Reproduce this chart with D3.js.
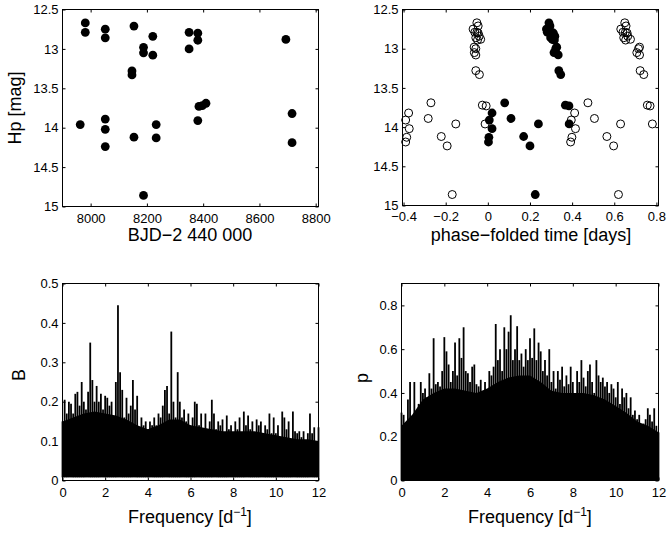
<!DOCTYPE html>
<html>
<head>
<meta charset="utf-8">
<script src="https://cdn.jsdelivr.net/npm/d3@7"></script>
<style>
    body { margin: 0; background: #fff; }
    svg { display: block; font-family: "Liberation Sans", Arial, Helvetica, sans-serif; }
</style>
</head>
<body>
<div id="chart"></div>
<script>
TICK_FONT = 13;
LABEL_FONT = 18;
TICK_LEN = 3;

// Hipparcos photometry, one entry per measurement
const BJD = [7981, 7981, 7963, 8052, 8052, 8052, 8052, 8052, 8154, 8147,
             8147, 8154, 8188, 8188, 8188, 8221, 8221, 8233, 8233, 8350,
             8350, 8381, 8381, 8385, 8397, 8410, 8381, 8694, 8716, 8716];
const MAG = [12.67, 12.79, 13.96, 12.75, 12.86, 13.89, 14.02, 14.24, 12.71, 13.28,
             13.33, 14.12, 12.98, 13.05, 14.86, 12.84, 13.08, 13.96, 14.13, 12.79,
             13.00, 12.80, 12.89, 13.73, 13.72, 13.69, 13.91, 12.88, 13.82, 14.19];
// folded phase of each point (filled) and the neighbouring cycles (open)
const PHASE = [0.290, 0.282, 0.240, 0.278, 0.298, 0.110, 0.020, 0.200, 0.295, 0.337,
               0.346, 0.170, 0.327, 0.314, 0.225, 0.318, 0.334, 0.386, 0.005, 0.301,
               0.322, 0.311, 0.316, 0.385, 0.368, 0.080, 0.007, 0.306, 0.020, 0.003];
const PHASE_BEFORE = [-0.052, -0.062, -0.152, -0.070, -0.057, -0.283, -0.373, -0.193, -0.046, -0.057,
                      -0.040, -0.221, -0.065, -0.064, -0.169, -0.041, -0.057, -0.013, -0.385, -0.052,
                      -0.057, -0.046, -0.049, -0.008, -0.026, -0.270, -0.390, -0.034, -0.376, -0.390];
const PHASE_AFTER = [0.650, 0.641, 0.630, 0.631, 0.645, 0.506, 0.416, 0.597, 0.656, 0.723,
                     0.740, 0.565, 0.720, 0.707, 0.620, 0.664, 0.720, 0.781, 0.399, 0.653,
                     0.715, 0.661, 0.654, 0.770, 0.757, 0.475, 0.396, 0.677, 0.412, 0.393];

// periodograms: values on a 0.1 d^-1 grid, solid floor on a 0.5 d^-1 grid
const B_TOP = [0.15, 0.205, 0.17, 0.2, 0.195, 0.17, 0.22, 0.225, 0.19, 0.25,
               0.2, 0.18, 0.225, 0.35, 0.255, 0.2, 0.24, 0.2, 0.22, 0.18,
               0.215, 0.21, 0.19, 0.2, 0.15, 0.25, 0.445, 0.275, 0.23, 0.16,
               0.21, 0.17, 0.19, 0.255, 0.18, 0.215, 0.13, 0.16, 0.14, 0.15,
               0.13, 0.15, 0.14, 0.16, 0.14, 0.17, 0.16, 0.19, 0.23, 0.24,
               0.17, 0.378, 0.2, 0.16, 0.275, 0.2, 0.16, 0.18, 0.15, 0.17,
               0.14, 0.16, 0.2, 0.195, 0.14, 0.17, 0.13, 0.17, 0.12, 0.15,
               0.205, 0.17, 0.13, 0.15, 0.14, 0.155, 0.12, 0.165, 0.13, 0.14,
               0.12, 0.15, 0.13, 0.16, 0.12, 0.175, 0.14, 0.165, 0.13, 0.15,
               0.12, 0.155, 0.14, 0.15, 0.12, 0.14, 0.13, 0.17, 0.12, 0.16,
               0.12, 0.14, 0.11, 0.175, 0.16, 0.13, 0.15, 0.1, 0.175, 0.125,
               0.12, 0.125, 0.11, 0.125, 0.1, 0.12, 0.17, 0.12, 0.135, 0.1,
               0.135];
const B_FLOOR = [0.15, 0.16, 0.17, 0.175, 0.17, 0.165, 0.155, 0.14, 0.13, 0.14,
                 0.155, 0.155, 0.14, 0.135, 0.13, 0.125, 0.125, 0.125, 0.125, 0.12,
                 0.115, 0.11, 0.105, 0.105, 0.1];

const P_TOP = [0.31, 0.3, 0.24, 0.37, 0.45, 0.28, 0.45, 0.26, 0.35, 0.45,
               0.4, 0.42, 0.38, 0.49, 0.42, 0.65, 0.44, 0.45, 0.43, 0.5,
               0.655, 0.59, 0.53, 0.45, 0.5, 0.63, 0.48, 0.65, 0.56, 0.7,
               0.5, 0.49, 0.45, 0.52, 0.53, 0.44, 0.43, 0.46, 0.38, 0.45,
               0.4, 0.5, 0.48, 0.52, 0.715, 0.55, 0.6, 0.5, 0.7, 0.6,
               0.68, 0.755, 0.55, 0.6, 0.705, 0.55, 0.58, 0.52, 0.6, 0.55,
               0.65, 0.56, 0.695, 0.55, 0.63, 0.59, 0.5, 0.55, 0.48, 0.6,
               0.45, 0.5, 0.42, 0.5, 0.46, 0.52, 0.43, 0.48, 0.44, 0.52,
               0.45, 0.4, 0.5, 0.45, 0.55, 0.47, 0.43, 0.5, 0.53, 0.45,
               0.4, 0.55, 0.48, 0.45, 0.47, 0.43, 0.45, 0.4, 0.44, 0.42,
               0.38, 0.45, 0.35, 0.42, 0.38, 0.4, 0.33, 0.38, 0.3, 0.32,
               0.28, 0.3, 0.25, 0.26, 0.28, 0.33, 0.3, 0.27, 0.33, 0.25,
               0.22];
const P_FLOOR = [0.25, 0.3, 0.37, 0.4, 0.42, 0.42, 0.41, 0.4, 0.42, 0.45,
                 0.47, 0.48, 0.48, 0.45, 0.41, 0.4, 0.4, 0.4, 0.39, 0.37,
                 0.34, 0.31, 0.27, 0.25, 0.22];

const X_TICKS_BJD = [8000, 8200, 8400, 8600, 8800];
const X_TICKS_PHASE = [-0.4, -0.2, 0, 0.2, 0.4, 0.6, 0.8];
const Y_TICKS_MAG = [12.5, 13, 13.5, 14, 14.5, 15];
const X_TICKS_FREQ = [0, 2, 4, 6, 8, 10, 12];
const Y_TICKS_B = [0, 0.1, 0.2, 0.3, 0.4, 0.5];
const Y_TICKS_P = [0, 0.2, 0.4, 0.6, 0.8];

const fmt = d3.format("~g");

const svg = d3.select('#chart')
    .append('svg')
    .attr('width', 667)
    .attr('height', 536);

// box with inward ticks on all four sides, labels only left and bottom
function addFrame(g, x, y, xTicks, yTicks, xPad = 7) {
    const w = x.range()[1] - x.range()[0];
    const h = Math.abs(y.range()[0] - y.range()[1]);

    const bottom = g.append('g').attr('transform', `translate(0,${h})`)
        .call(d3.axisBottom(x).tickValues(xTicks).tickSizeInner(-TICK_LEN).tickSizeOuter(0).tickPadding(xPad).tickFormat(fmt));
    const left = g.append('g')
        .call(d3.axisLeft(y).tickValues(yTicks).tickSizeInner(-TICK_LEN).tickSizeOuter(0).tickPadding(4).tickFormat(fmt));
    const top = g.append('g')
        .call(d3.axisTop(x).tickValues(xTicks).tickSizeInner(-TICK_LEN).tickSizeOuter(0).tickFormat(''));
    const right = g.append('g').attr('transform', `translate(${w},0)`)
        .call(d3.axisRight(y).tickValues(yTicks).tickSizeInner(-TICK_LEN).tickSizeOuter(0).tickFormat(''));

    [bottom, left, top, right].forEach(a => {
        a.select('.domain').remove();
        a.selectAll('line').attr('stroke', '#000');
        a.selectAll('text').style('font-size', `${TICK_FONT}px`).attr('fill', '#000');
    });

    g.append('rect')
        .attr('width', w)
        .attr('height', h)
        .attr('fill', 'none')
        .attr('stroke', '#000')
        .attr('stroke-width', 1);
}

function addYLabel(x, y, text) {
    svg.append('text')
        .attr('transform', `translate(${x},${y}) rotate(-90)`)
        .attr('text-anchor', 'middle')
        .style('font-size', `${LABEL_FONT}px`)
        .text(text);
}

function addXLabel(x, y, text) {
    svg.append('text')
        .attr('x', x)
        .attr('y', y)
        .attr('text-anchor', 'middle')
        .style('font-size', `${LABEL_FONT}px`)
        .text(text);
}

function addFreqLabel(x, y) {
    const t = svg.append('text')
        .attr('x', x)
        .attr('y', y)
        .attr('text-anchor', 'middle')
        .style('font-size', `${LABEL_FONT}px`);
    t.append('tspan').text('Frequency [d');
    t.append('tspan').attr('dy', -7).style('font-size', '12px').text('\u22121');
    t.append('tspan').attr('dy', 7).text(']');
}

function plotLightCurve() {
    const w = 256, h = 197;
    const g = svg.append('g').attr('transform', 'translate(62.5,9.5)');
    const x = d3.scaleLinear().domain([7900, 8810]).range([0, w]);
    const y = d3.scaleLinear().domain([12.5, 15]).range([0, h]);

    g.selectAll('circle')
        .data(BJD)
        .enter()
        .append('circle')
        .attr('cx', d => x(d))
        .attr('cy', (d, i) => y(MAG[i]))
        .attr('r', 4.4)
        .attr('fill', '#000');

    addFrame(g, x, y, X_TICKS_BJD, Y_TICKS_MAG);
    addYLabel(21, 108, 'Hp [mag]');
    addXLabel(190, 241, 'BJD\u22122 440 000');
}

function plotPhased() {
    const w = 256, h = 196;
    const g = svg.append('g').attr('transform', 'translate(402.5,9.5)');
    const x = d3.scaleLinear().domain([-0.405, 0.81]).range([0, w]);
    const y = d3.scaleLinear().domain([12.5, 15]).range([0, h]);

    const ghosts = PHASE_BEFORE.concat(PHASE_AFTER);
    g.append('g').selectAll('circle')
        .data(ghosts)
        .enter()
        .append('circle')
        .attr('cx', d => x(d))
        .attr('cy', (d, i) => y(MAG[i % MAG.length]))
        .attr('r', 4)
        .attr('fill', 'none')
        .attr('stroke', '#000')
        .attr('stroke-width', 1);

    g.append('g').selectAll('circle')
        .data(PHASE)
        .enter()
        .append('circle')
        .attr('cx', d => x(d))
        .attr('cy', (d, i) => y(MAG[i]))
        .attr('r', 4.4)
        .attr('fill', '#000');

    addFrame(g, x, y, X_TICKS_PHASE, Y_TICKS_MAG, 6);
    addXLabel(531, 241, 'phase\u2212folded time [days]');
}

function plotPeriodogram(left, w, top, yMax, values, floors, base, yTicks) {
    const h = 197;
    const g = svg.append('g').attr('transform', `translate(${left},${top})`);
    const x = d3.scaleLinear().domain([0, 12]).range([0, w]);
    const y = d3.scaleLinear().domain([0, yMax]).range([h, 0]);

    const floorArea = d3.area()
        .x((d, i) => x(i * 0.5))
        .y0(y(base))
        .y1(d => y(d));

    g.append('path')
        .datum(floors)
        .attr('d', floorArea)
        .attr('fill', '#000');

    // each periodogram value as a stem, packed close so only thin slits remain
    g.append('g').selectAll('line')
        .data(values)
        .enter()
        .append('line')
        .attr('x1', (d, i) => x(i * 0.1))
        .attr('x2', (d, i) => x(i * 0.1))
        .attr('y1', y(base))
        .attr('y2', d => y(d))
        .attr('stroke', '#000')
        .attr('stroke-width', 1.8);

    addFrame(g, x, y, X_TICKS_FREQ, yTicks);
}

plotLightCurve();
plotPhased();

plotPeriodogram(62.5, 256, 283.5, 0.5, B_TOP, B_FLOOR, 0.008, Y_TICKS_B);
addYLabel(25, 375, 'B');
addFreqLabel(190, 523);

plotPeriodogram(401.5, 257, 283.5, 0.9, P_TOP, P_FLOOR, 0, Y_TICKS_P);
addYLabel(368, 378, 'p');
addFreqLabel(530, 523);
</script>
</body>
</html>
